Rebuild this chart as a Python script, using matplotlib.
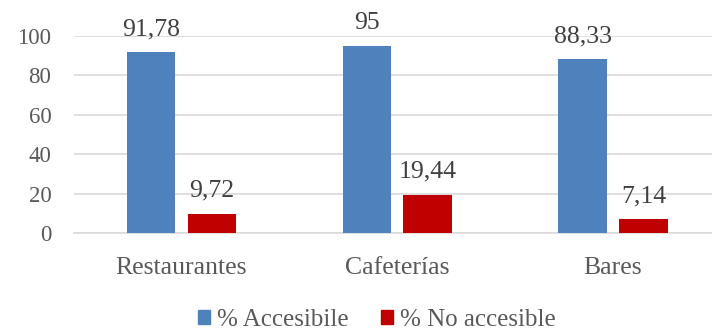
import numpy as np
import matplotlib.pyplot as plt
from matplotlib.patches import Patch

# data
categorias = ["Restaurantes", "Cafeterías", "Bares"]
accesible = [91.78, 95, 88.33]
no_accesible = [9.72, 19.44, 7.14]
etiquetas_acc = ["91,78", "95", "88,33"]
etiquetas_no = ["9,72", "19,44", "7,14"]
y_ticks = [0, 20, 40, 60, 80, 100]

azul = "#4f81bd"
rojo = "#c00000"
gris = "#595959"

plt.rcParams['font.family'] = ['Liberation Serif', 'DejaVu Serif']

fig = plt.figure(figsize=(7.12, 3.3), dpi=100)
ax = fig.add_axes([73.5 / 712, 97 / 330, (712 - 73.5) / 712, 197 / 330])

x = np.arange(len(categorias))
ancho = 0.2245
desp = 0.141
b1 = ax.bar(x - desp, accesible, ancho, color=azul, zorder=3)
b2 = ax.bar(x + desp, no_accesible, ancho, color=rojo, zorder=3)

for barras, textos in [(b1, etiquetas_acc), (b2, etiquetas_no)]:
    for b, t in zip(barras, textos):
        ax.annotate(t, (b.get_x() + b.get_width() / 2, b.get_height()),
                    xytext=(0, 12.2), textcoords="offset points",
                    ha="center", va="baseline", fontsize=18.5, color="#404040")

ax.set_xlim(-0.5, 2.5 - 9 / 216)
ax.set_ylim(0, 100)
ax.set_yticks(y_ticks)
ax.set_xticks(x)
ax.set_xticklabels(categorias)
ax.tick_params(axis="both", length=0, colors=gris)
ax.tick_params(axis="x", pad=17, labelsize=18.5)
ax.tick_params(axis="y", pad=16, labelsize=16.5)

ax.grid(axis="y", color="#d9d9d9", linewidth=1.2, zorder=0)
for s in ["top", "right", "left"]:
    ax.spines[s].set_visible(False)
ax.spines["bottom"].set_color("#d9d9d9")
ax.spines["bottom"].set_linewidth(1.2)

handles = [Patch(color=azul, label="% Accesibile"),
           Patch(color=rojo, label="% No accesible")]
leg = fig.legend(handles=handles, loc="center", bbox_to_anchor=(377 / 712, 10 / 330),
                 ncol=2, frameon=False,
                 prop={"family": ["Liberation Serif", "DejaVu Serif"], "size": 18},
                 handlelength=0.48, handleheight=0.48, handletextpad=0.28,
                 columnspacing=1.3, borderpad=0)
for t in leg.get_texts():
    t.set_color(gris)

fig.savefig("out.png", dpi=100)
